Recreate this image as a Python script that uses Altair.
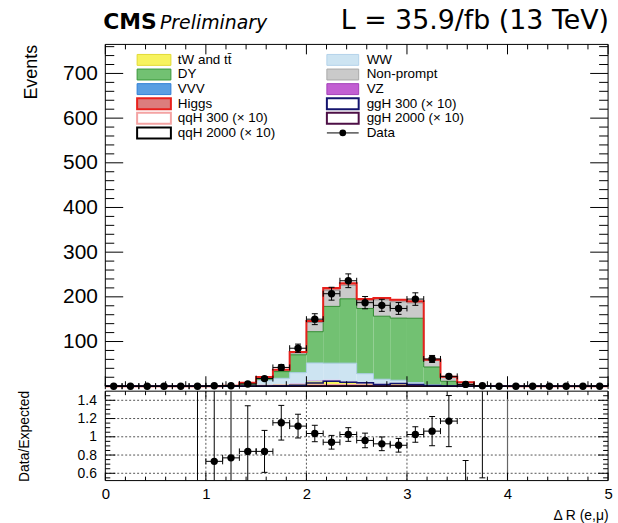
import altair as alt
import pandas as pd

# Delta R(e, mu) binning: 30 bins of width 1/6 on [0, 5]
N_BINS = 30
X_MIN, X_MAX = 0.0, 5.0
BW = (X_MAX - X_MIN) / N_BINS

# Expected backgrounds, events per bin, listed from the bottom of the stack upwards
tw_tt = [0] * 8 + [0.5, 1.5, 4, 5, 11, 12, 8, 6, 4, 6, 3, 1, 0.3] + [0] * 9
vvv = [0] * 9 + [0.1, 0.2, 0.3, 0.5, 0.6, 0.6, 0.5, 0.4, 0.4, 0.3, 0.1] + [0] * 10
vz = [0] * 9 + [0.2, 0.5, 1.0, 1.5, 2.0, 2.0, 1.5, 1.2, 1.0, 0.8, 0.3, 0.1] + [0] * 9
ww = [0] * 7 + [0.3, 2.0, 11, 13, 24, 39, 37, 41, 20, 10, 6, 4, 1.6, 0.6, 0.3] + [0] * 8
dy = [0] * 7 + [0.3, 2.5, 5, 15, 40, 70, 127, 144, 146, 141, 139, 144, 40, 10, 3.7, 0.2, 0.2] + [0] * 6
nonprompt = [0] * 7 + [0.3, 2.2, 2.4, 3, 4, 20.5, 36, 30, 16.5, 36.5, 36.5, 34, 14.5, 9.5, 4.7, 0.3, 0.2] + [0] * 6
higgs = [0] * 8 + [0.3, 0.6, 1, 2, 3.5, 5, 5, 4.5, 4.5, 4.5, 4, 1.5, 0.5, 0.3] + [0] * 8

# Signal hypotheses scaled by 10 (drawn as unstacked outlines)
ggh300 = [0] * 10 + [0.5, 2, 7, 11, 9, 7.5, 4, 6, 4, 1.5, 0.3] + [0] * 9
qqh300 = [0] * 6 + [0.3, 0.8, 1.2, 1.5, 1.5, 2, 2.5, 3, 3, 2.5, 2, 2, 1.5, 0.8, 0.5, 0.2] + [0] * 8
ggh2000 = [0] * 9 + [0.1, 0.2, 0.3, 0.5, 0.6, 0.7, 0.7, 0.6, 0.6, 0.5, 0.2, 0.1] + [0] * 9
qqh2000 = [0] * 9 + [0.1, 0.2, 0.3, 0.4, 0.5, 0.6, 0.6, 0.5, 0.5, 0.4, 0.2, 0.1] + [0] * 9

# Observed events and their statistical uncertainty
data_counts = [0] * 6 + [1, 1, 5, 17, 42, 85, 150, 207, 236, 187, 181, 174, 195, 61, 22, 4, 1] + [0] * 7
data_err = [0] * 6 + [1, 1, 2.2, 4.1, 6.5, 9.2, 12.2, 14.4, 15.4, 13.7, 13.5, 13.2, 14.0, 7.8, 4.7, 2.0, 1.0] + [0] * 7

# Data / expected ratio per bin (None where no ratio is drawn)
ratio_val = [None] * 5 + [0.0, 0.731, 0.769, 0.84, 0.84, 1.154, 1.117, 1.036, 0.94, 1.025,
                          0.96, 0.923, 0.907, 1.025, 1.062, 1.172, 0.45, 2.0] + [None] * 7
ratio_err = [None] * 5 + [1.8, 1.0, 1.0, 0.5, 0.23, 0.19, 0.13, 0.09, 0.075, 0.075,
                          0.08, 0.075, 0.075, 0.085, 0.16, 0.28, 0.29, 1.45] + [None] * 7

# Axis tick values
x_major = [0, 1, 2, 3, 4, 5]
x_minor = [round(0.2 * k, 1) for k in range(26) if k % 5]
y_major = list(range(0, 701, 100))
y_minor = [v for v in range(20, 765, 20) if v % 100]
y_labels = list(range(100, 701, 100))
r_major = [0.6, 0.8, 1.0, 1.2, 1.4]
r_minor = [round(0.55 + 0.05 * k, 2) for k in range(19) if round(0.55 + 0.05 * k, 2) not in r_major]
r_grid_dotted = [1, 2, 3]
r_grid_solid = [4]

W, H_TOP, H_RAT = 506, 344, 90
FONT = "Liberation Sans"
HEAD_FONT = "DejaVu Sans"

bin_lo = [X_MIN + i * BW for i in range(N_BINS)]
bin_hi = [X_MIN + (i + 1) * BW for i in range(N_BINS)]
bin_c = [X_MIN + (i + 0.5) * BW for i in range(N_BINS)]

xs = alt.Scale(domain=[X_MIN, X_MAX], nice=False, zero=False)
ys = alt.Scale(domain=[0, 765], nice=False, zero=False)
rs = alt.Scale(domain=[0.52, 1.5], nice=False, zero=False)

# Axis definitions, shared verbatim by every layer of a panel so they merge cleanly
TOP_Y_AXIS = alt.Axis(
    values=y_labels, format="d", title="Events", titleFontSize=18, titleAngle=270,
    titleAlign="right", titleBaseline="top", titleX=-83, titleY=0,
    labelFontSize=21, labelPadding=8, ticks=False, domain=False, grid=False)
RAT_Y_AXIS = alt.Axis(
    values=r_major, format=".1~f", title="Data/Expected", titleFontSize=14,
    titleAngle=270, titleAlign="center", titleBaseline="top", titleX=-88,
    titleY=H_RAT / 2, labelFontSize=14, labelPadding=9, ticks=False,
    domain=False, grid=False)
RAT_X_AXIS = alt.Axis(
    values=x_major, format="d", labelFontSize=15, labelPadding=6, labelFlush=False,
    title="\u0394 R (e,\u03bc)", titleFontSize=14, titleAlign="right", titleX=W,
    titleY=35, titleBaseline="middle", ticks=False, domain=False, grid=False)

backgrounds = [
    ("tW and tt\u0304", tw_tt, "#f7f35e"),
    ("VVV", vvv, "#5a9ee2"),
    ("VZ", vz, "#c25fd2"),
    ("WW", ww, "#cde4f2"),
    ("DY", dy, "#72c172"),
    ("Non-prompt", nonprompt, "#cacaca"),
    ("Higgs", higgs, "#dc7d7d"),
]

# ---- stacked histogram rectangles
rect_rows = []
cum = [0.0] * N_BINS
tops = {}
for name, vals, _ in backgrounds:
    for i, v in enumerate(vals):
        if v > 0:
            rect_rows.append({"proc": name, "lo": bin_lo[i], "hi": bin_hi[i],
                              "y0": cum[i], "y1": cum[i] + v})
    cum = [c + v for c, v in zip(cum, vals)]
    tops[name] = list(cum)
rect_df = pd.DataFrame(rect_rows)

proc_scale = alt.Scale(domain=[b[0] for b in backgrounds], range=[b[2] for b in backgrounds])

stack = alt.Chart(rect_df).mark_rect(strokeWidth=0).encode(
    x=alt.X("lo:Q", scale=xs, axis=None),
    x2="hi:Q",
    y=alt.Y("y0:Q", scale=ys, axis=TOP_Y_AXIS),
    y2="y1:Q",
    color=alt.Color("proc:N", scale=proc_scale, legend=None),
)


def step_frame(vals):
    return pd.DataFrame({"x": bin_lo + [X_MAX], "y": list(vals) + [vals[-1]]})


def step_line(vals, color, width):
    return alt.Chart(step_frame(vals)).mark_line(
        interpolate="step-after", color=color, strokeWidth=width
    ).encode(
        x=alt.X("x:Q", scale=xs, axis=None),
        y=alt.Y("y:Q", scale=ys, axis=TOP_Y_AXIS),
    )


outline_layers = [
    step_line(tops["WW"], "#a9cde6", 1),
    step_line(tops["DY"], "#2f8a2f", 1),
    step_line(tops["Non-prompt"], "#9a9a9a", 1),
    step_line(tops["Higgs"], "#e8201c", 2),
    step_line(qqh300, "#f4a3a3", 1.5),
    step_line(qqh2000, "#000000", 1.5),
    step_line(ggh2000, "#4d0f46", 1.5),
    step_line(ggh300, "#14146e", 1.5),
]

# ---- data points with error bars


def point_layers(df, yfield, yscale, xaxis, yaxis, clip):
    enc_x = alt.X("c:Q", scale=xs, axis=xaxis)
    layers = []
    err = df[df["e"] > 0]
    vbar = alt.Chart(err).transform_calculate(
        lo_y=f"datum.{yfield} - datum.e", hi_y=f"datum.{yfield} + datum.e"
    )
    layers.append(vbar.mark_rule(color="black", strokeWidth=1, clip=clip).encode(
        x=enc_x, y=alt.Y("lo_y:Q", scale=yscale, axis=yaxis), y2="hi_y:Q"))
    for f in ("lo_y", "hi_y"):
        layers.append(vbar.mark_rule(color="black", strokeWidth=1, clip=clip,
                                     xOffset=-3, x2Offset=3).encode(
            x=enc_x, x2="c:Q", y=alt.Y(f + ":Q", scale=yscale, axis=yaxis)))
    base = alt.Chart(df)
    layers.append(base.mark_rule(color="black", strokeWidth=1, clip=clip).encode(
        x=alt.X("lo:Q", scale=xs, axis=xaxis), x2="hi:Q",
        y=alt.Y(yfield + ":Q", scale=yscale, axis=yaxis)))
    for f in ("lo", "hi"):
        layers.append(base.mark_rule(color="black", strokeWidth=1, clip=clip,
                                     yOffset=-3, y2Offset=3).encode(
            x=alt.X(f + ":Q", scale=xs, axis=xaxis),
            y=alt.Y(yfield + ":Q", scale=yscale, axis=yaxis), y2=yfield + ":Q"))
    layers.append(base.mark_circle(color="black", opacity=1, size=55, clip=clip).encode(
        x=enc_x, y=alt.Y(yfield + ":Q", scale=yscale, axis=yaxis)))
    return layers


data_df = pd.DataFrame({"c": bin_c, "lo": bin_lo, "hi": bin_hi,
                        "n": data_counts, "e": data_err})
ratio_df = pd.DataFrame([
    {"c": bin_c[i], "lo": bin_lo[i], "hi": bin_hi[i], "r": ratio_val[i], "e": ratio_err[i]}
    for i in range(N_BINS) if ratio_val[i] is not None
])

# ---- inward ticks on all four sides of a panel


def tick_layers(yscale, xaxis, yaxis, height, ymaj, ymin, xlen, ylen):
    layers = []
    for vals, ln in ((x_major, xlen[0]), (x_minor, xlen[1])):
        b = alt.Chart(pd.DataFrame({"v": vals})).mark_rule(color="black", strokeWidth=1)
        xe = alt.X("v:Q", scale=xs, axis=xaxis)
        layers.append(b.encode(x=xe, y=alt.value(height), y2=alt.value(height - ln)))
        layers.append(b.encode(x=xe, y=alt.value(0), y2=alt.value(ln)))
    for vals, ln in ((ymaj, ylen[0]), (ymin, ylen[1])):
        b = alt.Chart(pd.DataFrame({"v": vals})).mark_rule(color="black", strokeWidth=1)
        ye = alt.Y("v:Q", scale=yscale, axis=yaxis)
        layers.append(b.encode(y=ye, x=alt.value(0), x2=alt.value(ln)))
        layers.append(b.encode(y=ye, x=alt.value(W), x2=alt.value(W - ln)))
    return layers


one = alt.Data(values=[{"k": 0}])


def frame(height):
    return alt.Chart(one).mark_rect(
        filled=False, stroke="black", strokeWidth=1
    ).encode(x=alt.value(0), x2=alt.value(W), y=alt.value(0), y2=alt.value(height))


# ---- legend (two columns, drawn in pixel space of the upper panel)
legend_cols = [
    [("tW and tt\u0304", "fill", "#f7f35e", "#e2da34"),
     ("DY", "fill", "#72c172", "#3a983a"),
     ("VVV", "fill", "#5a9ee2", "#2f7fd6"),
     ("Higgs", "fill", "#dc7d7d", "#e8201c"),
     ("qqH 300 (\u00d7 10)", "line", "white", "#f4a3a3"),
     ("qqH 2000 (\u00d7 10)", "line", "white", "#000000")],
    [("WW", "fill", "#cde4f2", "#b3d3ea"),
     ("Non-prompt", "fill", "#cacaca", "#a8a8a8"),
     ("VZ", "fill", "#c25fd2", "#a33fb8"),
     ("ggH 300 (\u00d7 10)", "line", "white", "#14146e"),
     ("ggH 2000 (\u00d7 10)", "line", "white", "#4d0f46"),
     ("Data", "data", None, "#000000")],
]
legend_x = [(32, 66, 73), (223, 255, 263)]
legend_layers = []
for col, entries in enumerate(legend_cols):
    x0, x1, tx = legend_x[col]
    for row, (label, kind, fill, stroke) in enumerate(entries):
        yc = 15.6 + 14.7 * row
        if kind == "data":
            legend_layers.append(alt.Chart(one).mark_rule(color="black", strokeWidth=1).encode(
                x=alt.value(x0), x2=alt.value(x1), y=alt.value(yc)))
            legend_layers.append(alt.Chart(one).mark_circle(color="black", opacity=1, size=45).encode(
                x=alt.value((x0 + x1) / 2), y=alt.value(yc)))
        else:
            sw = 2 if (kind == "line" or label == "Higgs") else 1
            legend_layers.append(alt.Chart(one).mark_rect(
                fill=fill, stroke=stroke, strokeWidth=sw).encode(
                x=alt.value(x0), x2=alt.value(x1),
                y=alt.value(yc - 5.5), y2=alt.value(yc + 5.5)))
        legend_layers.append(alt.Chart(one).mark_text(
            align="left", baseline="middle", font=FONT, fontSize=13.5, color="black").encode(
            x=alt.value(tx), y=alt.value(yc), text=alt.value(label)))

# ---- header texts above the upper panel
header_layers = [
    alt.Chart(one).mark_text(align="left", baseline="alphabetic", font=HEAD_FONT,
                             fontSize=22, fontWeight="bold", color="black").encode(
        x=alt.value(-2), y=alt.value(-15.5), text=alt.value("CMS")),
    alt.Chart(one).mark_text(align="left", baseline="alphabetic", font=HEAD_FONT,
                             fontSize=19, fontStyle="italic", color="black").encode(
        x=alt.value(55), y=alt.value(-15.5), text=alt.value("Preliminary")),
    alt.Chart(one).mark_text(align="right", baseline="alphabetic", font=HEAD_FONT,
                             fontSize=27, color="black").encode(
        x=alt.value(W + 1), y=alt.value(-15.5), text=alt.value("L = 35.9/fb (13 TeV)")),
]

top = alt.layer(
    stack, *outline_layers, frame(H_TOP),
    *tick_layers(ys, None, TOP_Y_AXIS, H_TOP, y_major, y_minor, (10, 5), (18, 9)),
    *point_layers(data_df, "n", ys, None, TOP_Y_AXIS, False),
    *legend_layers, *header_layers,
).properties(width=W, height=H_TOP)

# ---- ratio panel
grid_h = alt.Chart(pd.DataFrame({"v": r_major})).mark_rule(
    color="#555555", strokeWidth=1, strokeDash=[2, 2]).encode(
    y=alt.Y("v:Q", scale=rs, axis=RAT_Y_AXIS),
    x=alt.value(0), x2=alt.value(W))
grid_v = alt.Chart(pd.DataFrame({"v": r_grid_dotted})).mark_rule(
    color="#555555", strokeWidth=1, strokeDash=[2, 2]).encode(
    x=alt.X("v:Q", scale=xs, axis=RAT_X_AXIS),
    y=alt.value(0), y2=alt.value(H_RAT))
grid_v_solid = alt.Chart(pd.DataFrame({"v": r_grid_solid})).mark_rule(
    color="#666666", strokeWidth=1.2).encode(
    x=alt.X("v:Q", scale=xs, axis=RAT_X_AXIS),
    y=alt.value(0), y2=alt.value(H_RAT))

bottom = alt.layer(
    grid_h, grid_v, grid_v_solid, frame(H_RAT),
    *tick_layers(rs, RAT_X_AXIS, RAT_Y_AXIS, H_RAT, r_major, r_minor, (8, 4), (10, 5)),
    *point_layers(ratio_df, "r", rs, RAT_X_AXIS, RAT_Y_AXIS, True),
).properties(width=W, height=H_RAT)

chart = alt.vconcat(top, bottom, spacing=0).properties(
    padding={"left": 18, "top": 5, "right": 5, "bottom": 0}
).configure_view(stroke=None).configure_axis(
    labelFont=FONT, titleFont=FONT, labelColor="black", titleColor="black",
    titleFontWeight="normal")

chart.save("out.html", embed_options={"renderer": "svg", "actions": False})
